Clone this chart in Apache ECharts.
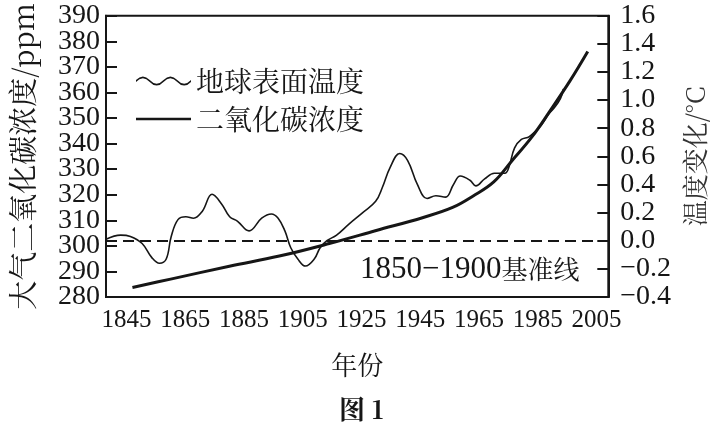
<!DOCTYPE html>
<html>
<head>
<meta charset="utf-8">
<script src="https://cdn.jsdelivr.net/npm/echarts@6/dist/echarts.min.js"></script>
<style>
  html, body { margin: 0; padding: 0; background: #fff; }
  #main { width: 716px; height: 422px; }
</style>
</head>
<body>
<div id="main"></div>
<script>
// 地球表面温度 (相对1850-1900基准线, °C)
var tempYears = [1838, 1843, 1846.3, 1850.3, 1853.6, 1856.2, 1858.5, 1860.2, 1862.5, 1865.2,
  1867.8, 1870.8, 1874.1, 1877.4, 1880.1, 1882.7, 1886.7, 1891, 1894.3, 1896.6,
  1898.9, 1900.9, 1903.3, 1905.9, 1908.9, 1910.9, 1913.2, 1916.5, 1920.8, 1925.4,
  1929.8, 1932.1, 1934.7, 1938, 1940.7, 1944, 1947.3, 1950.3, 1953.6, 1956.3,
  1958.6, 1961.9, 1963.9, 1966.9, 1970.2, 1973.8, 1975.1, 1977.1, 1979.4, 1982.1,
  1986.1, 1988.7, 1990.4, 1992.7, 1993.7]
var tempValues = [0.01, 0.04, 0.03, -0.02, -0.12, -0.16, -0.13, 0.03, 0.15, 0.17,
  0.16, 0.21, 0.33, 0.26, 0.17, 0.14, 0.07, 0.16, 0.19, 0.16,
  0.07, -0.05, -0.13, -0.18, -0.13, -0.05, 0.00, 0.04, 0.12, 0.20,
  0.28, 0.38, 0.52, 0.62, 0.57, 0.40, 0.30, 0.32, 0.31, 0.40,
  0.46, 0.43, 0.39, 0.44, 0.48, 0.48, 0.52, 0.66, 0.72, 0.74,
  0.82, 0.90, 0.94, 1.01, 1.08]

// 大气二氧化碳浓度 (ppm)
var co2Years = [1847, 1860, 1880, 1897, 1914, 1930, 1946, 1956, 1963, 1970, 1976, 1983, 1989, 1996, 2002]
var co2Values = [283.7, 287.0, 292.0, 296.0, 300.9, 306.0, 311.1, 315.0, 319.5, 325.0, 333.0, 342.6, 352.5, 364.6, 376.0]

var yearLabels = [1845, 1865, 1885, 1905, 1925, 1945, 1965, 1985, 2005]
// left labels sit so close together that they are split over two axes
var ppmLabelsEven = [280, 300, 320, 340, 360, 380]
var ppmLabelsOdd = [290, 310, 330, 350, 370, 390]

var serif = '"Liberation Serif", "DejaVu Serif", serif'
var cjk = '"Noto Serif CJK SC", "Noto Sans CJK SC", sans-serif'
var ink = '#161616'

function pairs (xs, ys) {
  return xs.map(function (x, i) { return [x, ys[i]] })
}

// legend icons (both span y 5..15 so they scale the same)
var waveIcon = 'path://M0,9 Q7.5,1 15,9 Q22.5,17 30,9 Q37.5,1 45,9 Q52.5,17 60,9 ' +
  'L60,11 Q52.5,19 45,11 Q37.5,3 30,11 Q22.5,19 15,11 Q7.5,3 0,11 Z'
var lineIcon = 'path://M0,5 L0.01,5 L0,5.01 Z M0,8.7 L60,8.7 L60,11.3 L0,11.3 Z ' +
  'M60,15 L59.99,15 L60,14.99 Z'

var ppmLabelStyle = {
  margin: 6, fontFamily: serif, fontSize: 28, color: ink,
  showMinLabel: true, showMaxLabel: true
}

var myChart = echarts.init(document.getElementById('main'))

var option = {
  backgroundColor: '#fff',
  animation: false,
  title: {
    text: '图 1',
    left: 334,
    top: 391,
    textStyle: { fontFamily: cjk, fontSize: 26, fontWeight: 'bold', color: ink }
  },
  grid: {
    left: 103, right: 96, top: 15, bottom: 125,
    show: true, borderColor: ink, borderWidth: 2
  },
  legend: {
    orient: 'vertical',
    left: 131,
    top: 62,
    itemWidth: 55,
    itemHeight: 12,
    itemGap: 10,
    textStyle: { fontFamily: cjk, fontSize: 28, color: ink },
    data: [
      { name: '地球表面温度', icon: waveIcon },
      { name: '二氧化碳浓度', icon: lineIcon }
    ]
  },
  xAxis: {
    type: 'value',
    min: 1838,
    max: 2009,
    name: '年份',
    nameLocation: 'middle',
    nameGap: 55,
    nameTextStyle: { fontFamily: cjk, fontSize: 26, color: ink },
    axisLine: { show: true, onZero: false, lineStyle: { color: ink, width: 2 } },
    axisTick: { show: false },
    splitLine: { show: false },
    axisLabel: {
      customValues: yearLabels,
      margin: 11,
      fontFamily: serif,
      fontSize: 25,
      color: ink,
      formatter: function (v) { return String(v) }
    }
  },
  yAxis: [
    {
      type: 'value',
      min: 280,
      max: 390,
      interval: 10,
      name: '大气二氧化碳浓度/ppm',
      nameLocation: 'middle',
      nameGap: 69,
      nameTextStyle: { fontFamily: cjk, fontSize: 29, color: ink },
      axisLine: { show: true, lineStyle: { color: ink, width: 2 } },
      axisTick: { show: true, inside: true, length: 11, lineStyle: { color: ink, width: 2 } },
      splitLine: { show: false },
      axisLabel: Object.assign({ customValues: ppmLabelsEven }, ppmLabelStyle)
    },
    {
      type: 'value',
      position: 'right',
      min: -0.4,
      max: 1.6,
      interval: 0.2,
      name: '温度变化/°C',
      nameLocation: 'middle',
      nameGap: 64,
      nameTextStyle: { fontFamily: cjk, fontSize: 26, color: '#333' },
      axisLine: { show: true, lineStyle: { color: ink, width: 2 } },
      axisTick: { show: true, inside: true, length: 11, lineStyle: { color: ink, width: 2 } },
      splitLine: { show: false },
      axisLabel: {
        margin: 12,
        fontFamily: serif,
        fontSize: 28,
        color: ink,
        showMinLabel: true,
        showMaxLabel: true,
        formatter: function (v) {
          var r = Math.round(v * 10) / 10
          return (r < 0 ? '\u2212' : '') + Math.abs(r).toFixed(1)
        }
      }
    },
    {
      type: 'value',
      position: 'left',
      offset: 0,
      min: 280,
      max: 390,
      interval: 10,
      axisLine: { show: false },
      axisTick: { show: false },
      splitLine: { show: false },
      axisLabel: Object.assign({ customValues: ppmLabelsOdd }, ppmLabelStyle)
    }
  ],
  graphic: [
    {
      type: 'text',
      left: 360,
      top: 254,
      style: {
        text: '{n|1850\u22121900}{c|基准线}',
        rich: {
          n: { fontFamily: serif, fontSize: 31, fill: ink },
          c: { fontFamily: cjk, fontSize: 26, fill: ink }
        }
      }
    }
  ],
  series: [
    {
      name: '地球表面温度',
      type: 'line',
      yAxisIndex: 1,
      smooth: 0.4,
      symbol: 'none',
      color: ink,
      lineStyle: { color: ink, width: 1.6 },
      data: pairs(tempYears, tempValues),
      markLine: {
        silent: true,
        symbol: 'none',
        label: { show: false },
        lineStyle: { color: ink, width: 2, type: [11, 6] },
        data: [{ yAxis: 0 }]
      }
    },
    {
      name: '二氧化碳浓度',
      type: 'line',
      yAxisIndex: 0,
      smooth: 0.4,
      symbol: 'none',
      color: ink,
      lineStyle: { color: ink, width: 3 },
      data: pairs(co2Years, co2Values)
    }
  ]
}

myChart.setOption(option)

window.onresize = function () {
  myChart.resize()
}
</script>
</body>
</html>
